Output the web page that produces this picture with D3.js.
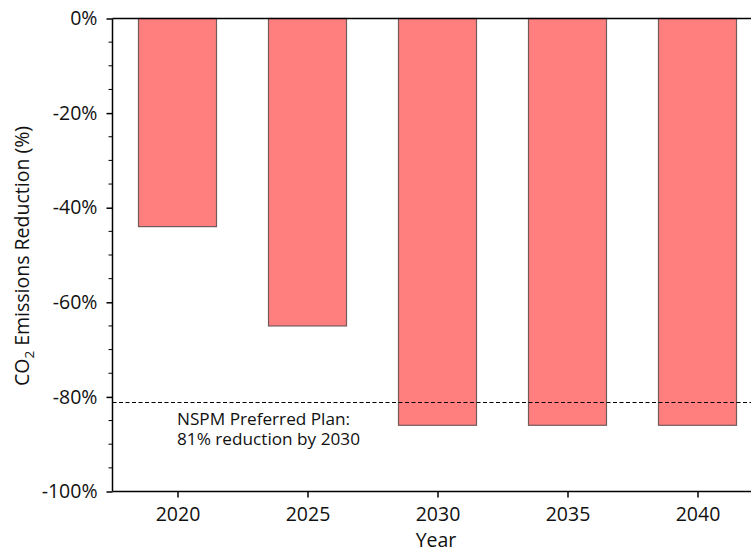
<!DOCTYPE html>
<html>
<head>
<meta charset="utf-8">
<script src="https://cdn.jsdelivr.net/npm/d3@7"></script>
<style>
  html, body { margin: 0; padding: 0; background: #fff; }
  svg { display: block; font-family: "Open Sans", "Noto Sans", sans-serif; }
</style>
</head>
<body>
<svg id="chart" width="751" height="552"></svg>
<script>
// Projected CO2 emission reductions by year
const years = [2020, 2025, 2030, 2035, 2040];
const reductions = [-44, -65, -86, -86, -86];
const yTicks = [0, -20, -40, -60, -80, -100];
const planLevel = -81;
const planNote = ["NSPM Preferred Plan:", "81% reduction by 2030"];

const svg = d3.select("#chart");
const plotLeft = 112.5, plotTop = 18.5, plotBottom = 491.5;
const tickFont = 19.5;

const x = d3.scaleLinear().domain([2017.5, 2042.5]).range([plotLeft, plotLeft + 25 * 26]);
const y = d3.scaleLinear().domain([-100, 0]).range([plotBottom, plotTop]);
const barHalf = 1.5; // bar width in years / 2

// bars
svg.append("g").selectAll("rect")
  .data(years.map((yr, i) => ({ yr, v: reductions[i] })))
  .join("rect")
  .attr("x", d => x(d.yr - barHalf))
  .attr("width", d => x(d.yr + barHalf) - x(d.yr - barHalf))
  .attr("y", y(0))
  .attr("height", d => y(d.v) - y(0))
  .attr("fill", "#ff7f7f")
  .attr("stroke", "#735a5a")
  .attr("stroke-width", 1.2);

// reference line for the preferred plan
svg.append("line")
  .attr("x1", plotLeft).attr("x2", 751)
  .attr("y1", Math.round(y(planLevel)) + 0.5).attr("y2", Math.round(y(planLevel)) + 0.5)
  .attr("stroke", "#000").attr("stroke-width", 1.2)
  .attr("stroke-dasharray", "4,2.5");

// two-line note under the reference line
svg.append("g").selectAll("text").data(planNote).join("text")
  .attr("x", 177).attr("y", (d, i) => 425 + i * 20)
  .attr("font-size", 17.2).attr("fill", "#111")
  .text(d => d);

// y axis
const yAxis = svg.append("g")
  .attr("transform", `translate(${plotLeft},0)`)
  .call(d3.axisLeft(y).tickValues(yTicks).tickFormat(d => d + "%").tickSize(6).tickPadding(9));
yAxis.select(".domain").remove();
yAxis.selectAll("text").attr("font-size", tickFont).attr("fill", "#111")
  .attr("font-family", "'Open Sans', 'Noto Sans', sans-serif");
yAxis.selectAll("line").attr("stroke-width", 1.5);

const minor = d3.range(-95, 0, 5).filter(v => v % 20 !== 0);
svg.append("g").selectAll("line").data(minor).join("line")
  .attr("x1", plotLeft - 4).attr("x2", plotLeft)
  .attr("y1", d => y(d)).attr("y2", d => y(d))
  .attr("stroke", "#000").attr("stroke-width", 1);

// x axis
const xAxis = svg.append("g")
  .attr("transform", `translate(0,${plotBottom})`)
  .call(d3.axisBottom(x).tickValues(years).tickFormat(d3.format("d")).tickSize(6).tickPadding(10));
xAxis.select(".domain").remove();
xAxis.selectAll("text").attr("font-size", tickFont).attr("fill", "#111")
  .attr("font-family", "'Open Sans', 'Noto Sans', sans-serif");
xAxis.selectAll("line").attr("stroke-width", 1.5);

// frame lines: left, top, bottom
svg.append("line").attr("x1", plotLeft).attr("x2", plotLeft).attr("y1", plotTop).attr("y2", plotBottom)
  .attr("stroke", "#000").attr("stroke-width", 1.5);
svg.append("line").attr("x1", plotLeft).attr("x2", 751).attr("y1", plotTop).attr("y2", plotTop)
  .attr("stroke", "#000").attr("stroke-width", 1.5);
svg.append("line").attr("x1", plotLeft).attr("x2", 751).attr("y1", plotBottom).attr("y2", plotBottom)
  .attr("stroke", "#000").attr("stroke-width", 1.5);

// axis titles
svg.append("text")
  .attr("x", 436).attr("y", 547)
  .attr("text-anchor", "middle").attr("font-size", 19.5).attr("fill", "#111")
  .text("Year");

const yt = svg.append("text")
  .attr("transform", `translate(29,256) rotate(-90)`)
  .attr("text-anchor", "middle").attr("font-size", 19.5).attr("fill", "#111");
yt.append("tspan").text("CO");
yt.append("tspan").attr("font-size", 13.5).attr("dy", 4.5).text("2");
yt.append("tspan").attr("dy", -4.5).text(" Emissions Reduction (%)");
</script>
</body>
</html>
